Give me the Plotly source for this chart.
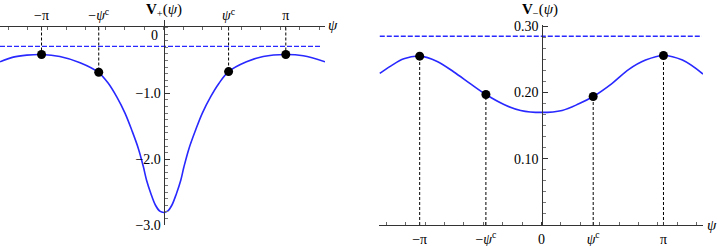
import math
import plotly.graph_objects as go

PI = math.pi

# ---------------- data ----------------
# left panel: V+(psi)
vp_psi = [-4.21, -3.87, -3.52, -3.14, -2.67, -2.15, -1.68, -1.42, -1.21, -0.995, -0.82,
          -0.65, -0.52, -0.44, -0.33, -0.21, -0.10, 0.0, 0.10, 0.21, 0.33, 0.44, 0.52,
          0.65, 0.82, 0.995, 1.21, 1.42, 1.67, 2.13, 2.56, 3.14, 3.59, 4.15]
vp_val = [-0.52, -0.45, -0.42, -0.41, -0.44, -0.535, -0.68, -0.85, -1.05, -1.30, -1.56,
          -1.84, -2.12, -2.32, -2.52, -2.70, -2.79, -2.81, -2.79, -2.70, -2.52, -2.32, -2.12,
          -1.84, -1.56, -1.30, -1.05, -0.85, -0.67, -0.52, -0.44, -0.41, -0.43, -0.52]
vp_marks_psi = [-PI, -1.67, 1.67, PI]
vp_marks_val = [-0.41, -0.68, -0.67, -0.41]
vp_level = -0.286
vp_level_psi = [-4.21, 4.06]

# right panel: V-(psi)
vm_psi = [-4.17, -3.89, -3.55, -3.14, -2.69, -2.26, -1.83, -1.435, -0.97, -0.54, 0.0,
          0.53, 0.96, 1.33, 1.82, 2.25, 2.68, 3.14, 3.63, 4.16]
vm_val = [0.229, 0.240, 0.251, 0.255, 0.247, 0.231, 0.213, 0.197, 0.182, 0.173, 0.170,
          0.173, 0.183, 0.194, 0.214, 0.235, 0.249, 0.256, 0.249, 0.228]
vm_marks_psi = [-PI, -1.435, 1.33, PI]
vm_marks_val = [0.255, 0.197, 0.194, 0.256]
vm_level = 0.285
vm_level_psi = [-4.17, 4.13]

left_xtick_text = ["−π", "−<i>ψ</i><sup>c</sup>", "<i>ψ</i><sup>c</sup>", "π"]
left_ytick_vals = [-1, -2, -3]
left_ytick_text = ["−1.0", "−2.0", "−3.0"]
right_xtick_vals = [-PI, -1.435, 0, 1.33, PI]
right_xtick_text = ["−π", "−<i>ψ</i><sup>c</sup>", "0", "<i>ψ</i><sup>c</sup>", "π"]
right_ytick_vals = [0.1, 0.2, 0.3]
right_ytick_text = ["0.10", "0.20", "0.30"]

# ---------------- figure ----------------
W, H = 721, 246
BLUE = "rgb(40,40,255)"
FONT = "Liberation Serif"
AX = "#333333"


def px(x):
    return x / W


def py(y):
    return 1 - y / H


def drops(xs, ys):
    dx, dy = [], []
    for a, b in zip(xs, ys):
        dx += [a, a, None]
        dy += [0, b, None]
    return dx, dy


fig = go.Figure()

# left panel traces
dx, dy = drops(vp_marks_psi, vp_marks_val)
fig.add_trace(go.Scatter(x=dx, y=dy, mode="lines", xaxis="x", yaxis="y",
                         line=dict(color="black", width=1, dash="3px,2px"), hoverinfo="skip"))
fig.add_trace(go.Scatter(x=vp_level_psi, y=[vp_level, vp_level], mode="lines", xaxis="x", yaxis="y",
                         line=dict(color=BLUE, width=1.3, dash="5px,2px")))
fig.add_trace(go.Scatter(x=vp_psi, y=vp_val, mode="lines", xaxis="x", yaxis="y",
                         line=dict(color=BLUE, width=1.6, shape="spline", smoothing=1.0)))
fig.add_trace(go.Scatter(x=vp_marks_psi, y=vp_marks_val, mode="markers", xaxis="x", yaxis="y",
                         marker=dict(color="black", size=9)))

# right panel traces
dx, dy = drops(vm_marks_psi, vm_marks_val)
fig.add_trace(go.Scatter(x=dx, y=dy, mode="lines", xaxis="x2", yaxis="y2",
                         line=dict(color="black", width=1, dash="3px,2px"), hoverinfo="skip"))
fig.add_trace(go.Scatter(x=vm_level_psi, y=[vm_level, vm_level], mode="lines", xaxis="x2", yaxis="y2",
                         line=dict(color=BLUE, width=1.3, dash="5px,2px")))
fig.add_trace(go.Scatter(x=vm_psi, y=vm_val, mode="lines", xaxis="x2", yaxis="y2",
                         line=dict(color=BLUE, width=1.6, shape="spline", smoothing=1.0)))
fig.add_trace(go.Scatter(x=vm_marks_psi, y=vm_marks_val, mode="markers", xaxis="x2", yaxis="y2",
                         marker=dict(color="black", size=9)))

tickfont = dict(family=FONT, size=14, color="black")

fig.update_layout(
    width=W, height=H, margin=dict(l=0, r=0, t=0, b=0, pad=0, autoexpand=False),
    paper_bgcolor="white", plot_bgcolor="rgba(0,0,0,0)", showlegend=False,
    xaxis=dict(domain=[0, px(325)], range=[-4.21, 4.15], anchor="free", position=py(26),
               side="top", showline=True, linecolor=AX, linewidth=1, zeroline=False,
               automargin=False,
               showgrid=False, tickmode="array", tickvals=vp_marks_psi, ticktext=left_xtick_text,
               ticks="inside", ticklen=3, tickcolor=AX, tickfont=tickfont,
               minor=dict(tickmode="linear", tick0=0, dtick=0.5, ticks="inside", ticklen=3,
                          tickcolor="#666666", showgrid=False)),
    yaxis=dict(domain=[py(225), py(20)], range=[-3.0, 0.114], anchor="free", position=px(163.7),
               showline=True, linecolor=AX, linewidth=1.2, zeroline=False, showgrid=False,
               automargin=False,
               tickmode="array", tickvals=left_ytick_vals, ticktext=left_ytick_text,
               ticks="inside", ticklen=5, tickcolor=AX, tickfont=tickfont,
               minor=dict(tickmode="linear", tick0=0, dtick=0.1, ticks="inside", ticklen=3,
                          tickcolor="#777777", showgrid=False)),
    xaxis2=dict(domain=[px(379), px(703)], range=[-4.19, 4.16], anchor="y2", side="bottom",
                showline=True, linecolor=AX, linewidth=1, zeroline=False, showgrid=False,
                automargin=False,
                tickmode="array", tickvals=right_xtick_vals, ticktext=right_xtick_text,
                ticks="inside", ticklen=3, tickcolor=AX, tickfont=tickfont, ticklabelstandoff=1,
                minor=dict(tickmode="linear", tick0=0, dtick=0.5, ticks="inside", ticklen=3,
                           tickcolor="#666666", showgrid=False)),
    yaxis2=dict(domain=[py(225), py(25)], range=[0, 0.302], anchor="free", position=px(541.5),
                showline=True, linecolor=AX, linewidth=1.2, zeroline=False, showgrid=False,
                automargin=False,
                tickmode="array", tickvals=right_ytick_vals, ticktext=right_ytick_text,
                ticks="inside", ticklen=5, tickcolor=AX, tickfont=tickfont,
                minor=dict(tickmode="linear", tick0=0, dtick=0.1 / 6, ticks="inside", ticklen=3,
                           tickcolor="#777777", showgrid=False)),
)

ann_font = dict(family=FONT, size=15, color="black")
fig.add_annotation(text="<b>V</b><sub>+</sub>(<i>ψ</i>)", x=px(164), y=py(10), xref="paper", yref="paper",
                   showarrow=False, font=ann_font, xanchor="center", yanchor="middle")
fig.add_annotation(text="<b>V</b><sub>−</sub>(<i>ψ</i>)", x=px(540), y=py(10), xref="paper", yref="paper",
                   showarrow=False, font=ann_font, xanchor="center", yanchor="middle")
fig.add_annotation(text="<i>ψ</i>", x=px(333), y=py(25), xref="paper", yref="paper",
                   showarrow=False, font=ann_font, xanchor="center", yanchor="middle")
fig.add_annotation(text="<i>ψ</i>", x=px(712), y=py(225), xref="paper", yref="paper",
                   showarrow=False, font=ann_font, xanchor="center", yanchor="middle")
# the "0" label of the left vertical axis sits just below the horizontal axis
fig.add_annotation(text="0", x=px(154), y=py(35), xref="paper", yref="paper",
                   showarrow=False, font=tickfont, xanchor="center", yanchor="middle")

fig.write_html("out.html", config={"displayModeBar": False},
               post_script="document.body.style.margin='0px';document.body.style.overflow='hidden';")
